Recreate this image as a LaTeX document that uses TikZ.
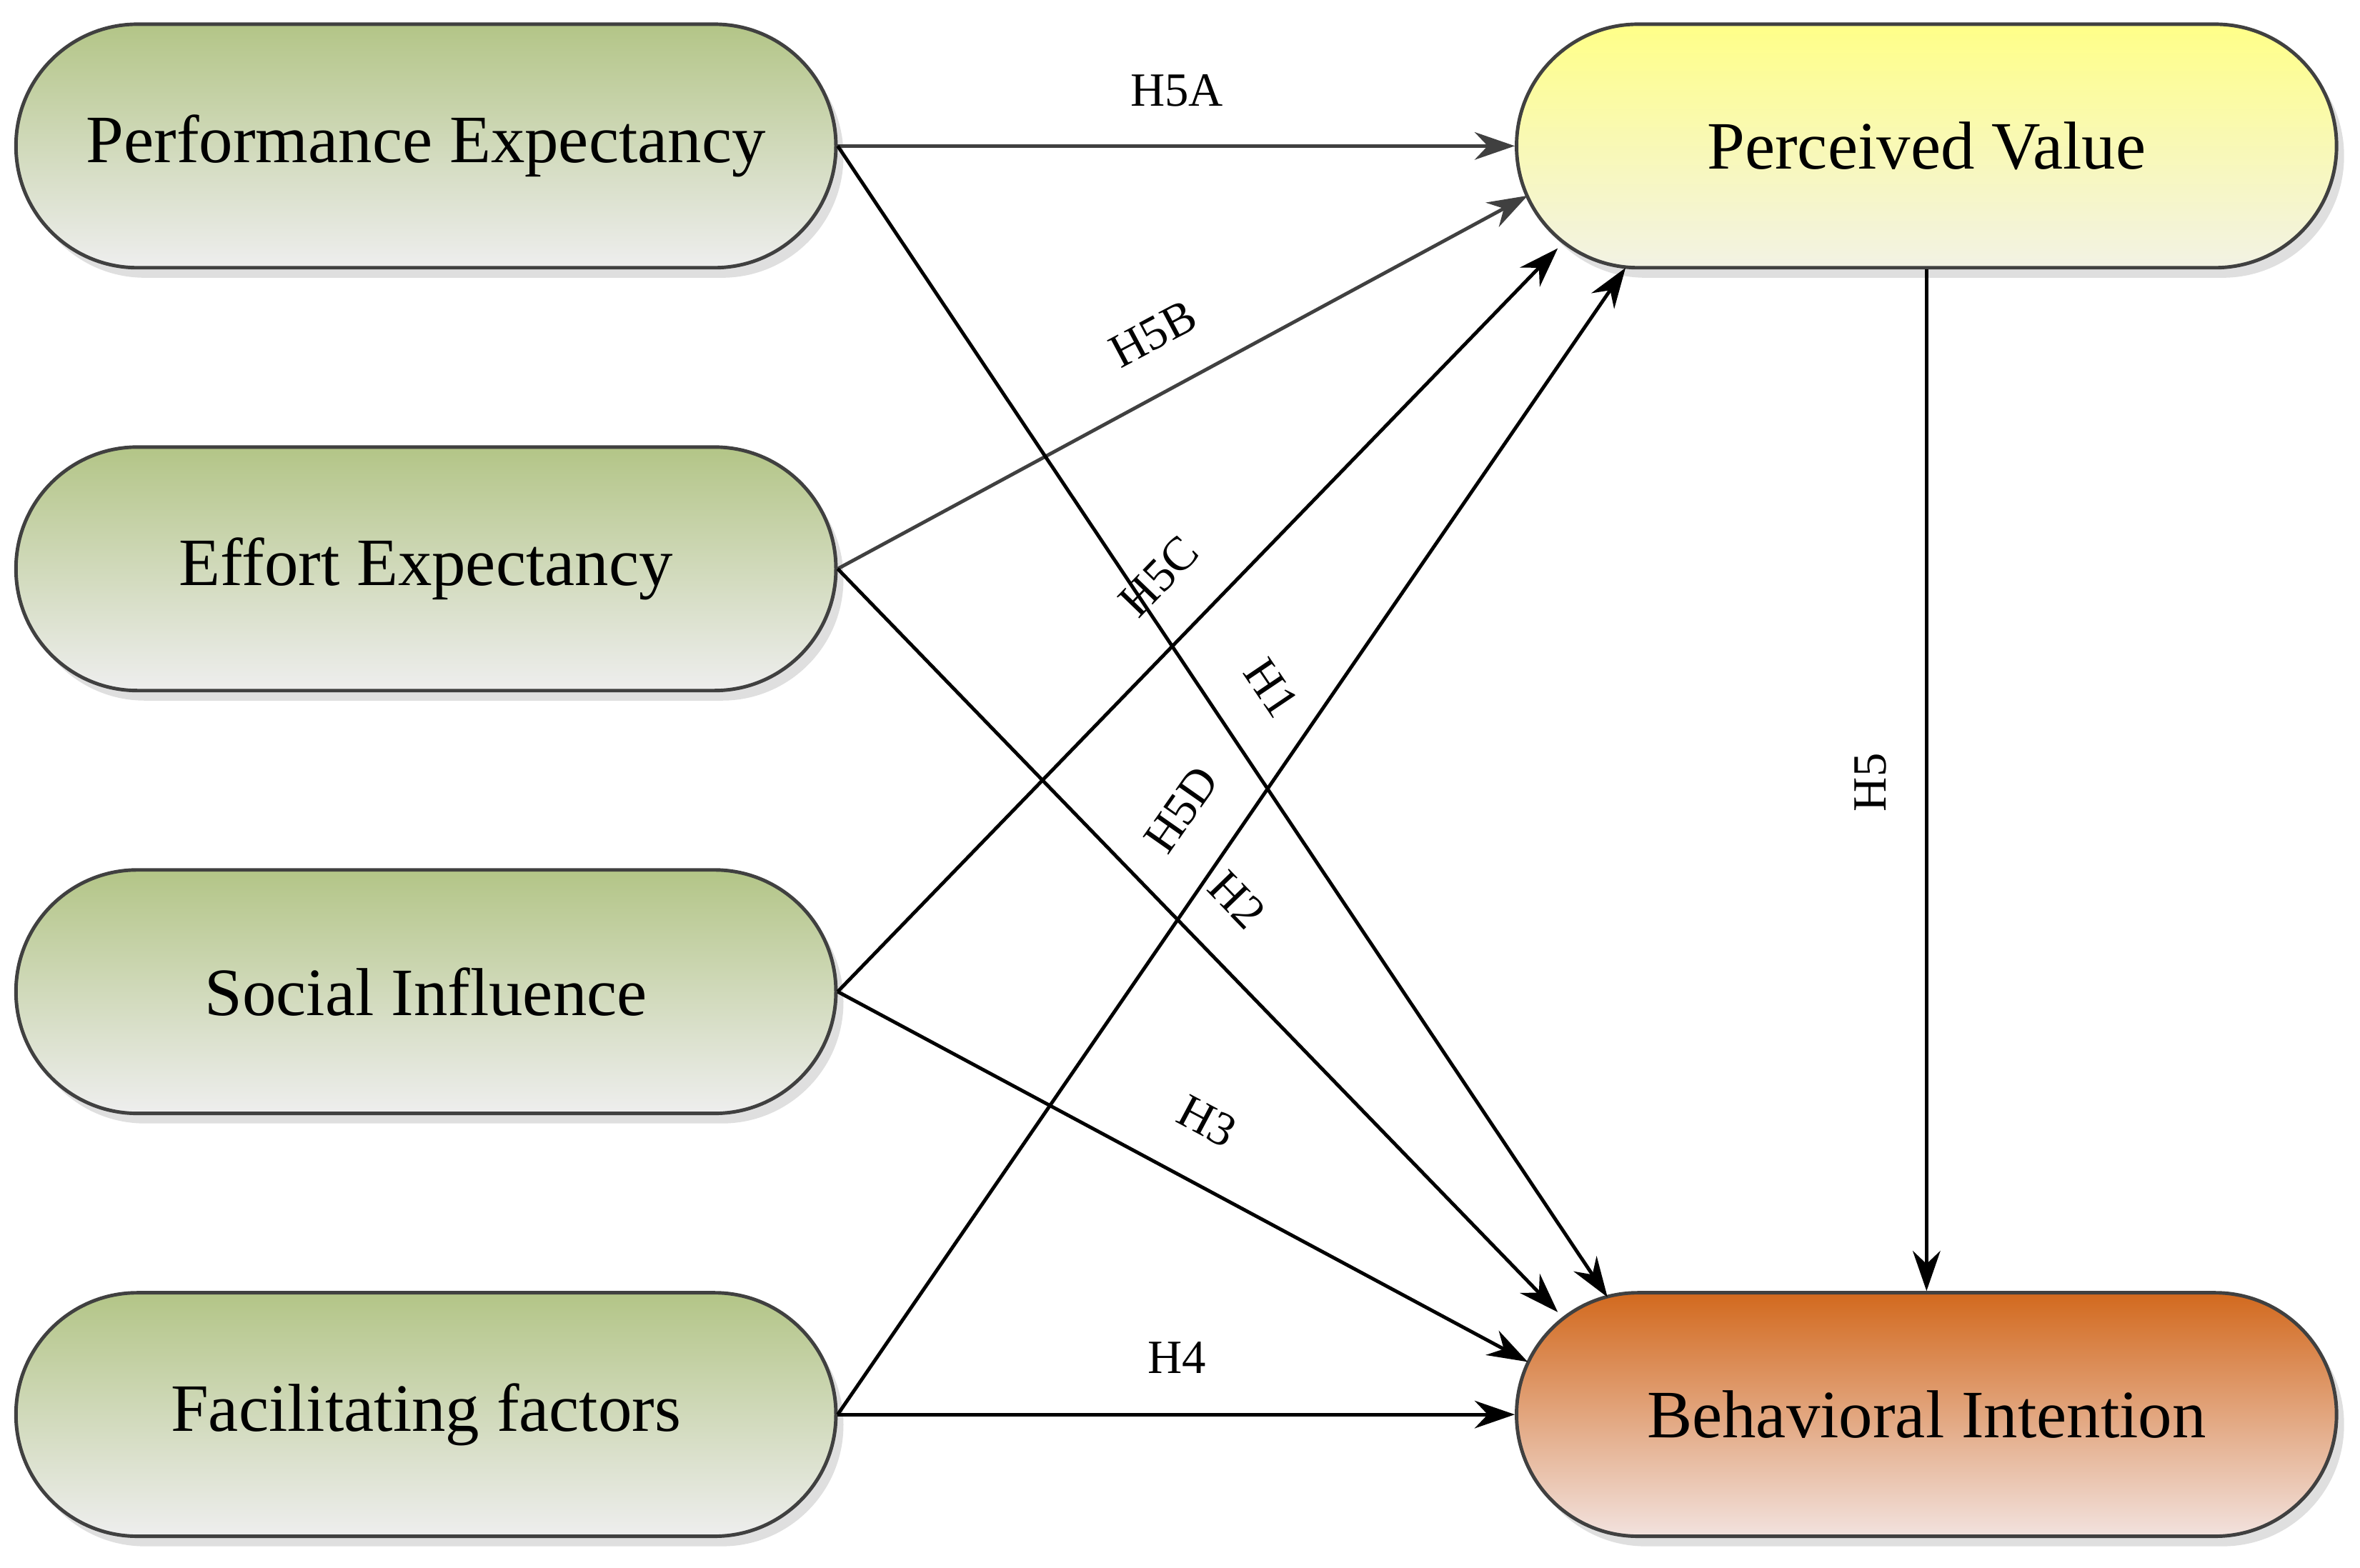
\documentclass[tikz,border=0pt]{standalone}
\usepackage{fontspec}
\setmainfont{Liberation Serif}
\usetikzlibrary{shadows,arrows.meta}
\definecolor{grtop}{HTML}{B3C587}
\definecolor{grbot}{HTML}{EEEEEE}
\definecolor{ytop}{HTML}{FFFF88}
\definecolor{ybot}{HTML}{F2F2E4}
\definecolor{otop}{HTML}{D2691E}
\definecolor{obot}{HTML}{F2E2DE}
\begin{document}
\begin{tikzpicture}[x=0.02107cm,y=-0.02107cm,
 box/.style={draw=black!75,line width=1.4pt,rounded corners=1.7cm,minimum width=11.48cm,minimum height=3.41cm,
   font=\fontsize{27}{30}\selectfont,drop shadow={shadow xshift=3pt,shadow yshift=-4pt,opacity=0.25}},
 lg/.style={box,top color=grtop,bottom color=grbot},
 ar/.style={line width=1.4pt,-{Stealth[length=16pt,width=11pt]}},
 lb/.style={font=\fontsize{19}{21}\selectfont,inner sep=1pt}]
\useasboundingbox (0,0) rectangle (1568,1042);
\node[lg] (pe) at (283,97) {Performance Expectancy};
\node[lg] (ee) at (283,378) {Effort Expectancy};
\node[lg] (si) at (283,659) {Social Influence};
\node[lg] (ff) at (283,940) {Facilitating factors};
\node[box,top color=ytop,bottom color=ybot] (pv) at (1280,97) {Perceived Value};
\node[box,top color=otop,bottom color=obot] (bi) at (1280,940) {Behavioral Intention};
\coordinate (pvb) at (1015,130);
\coordinate (pvc) at (1035,165);
\coordinate (pvd) at (1080,178);
\coordinate (bia) at (1068,862);
\coordinate (bib) at (1035,872);
\coordinate (bic) at (1015,905);
\draw[ar,black!75] (pe.east) -- (pv.west);
\draw[ar,black!75] (ee.east) -- (pvb);
\draw[ar] (si.east) -- (pvc);
\draw[ar] (ff.east) -- (pvd);
\draw[ar] (pe.east) -- (bia);
\draw[ar] (ee.east) -- (bib);
\draw[ar] (si.east) -- (bic);
\draw[ar] (ff.east) -- (bi.west);
\draw[ar] (pv.south) -- (bi.north);
\node[lb] (l5a) at (782,60) {H5A};
\node[lb,rotate=28] (l5b) at (766,222) {H5B};
\node[lb,rotate=46] (l5c) at (770,383) {H5C};
\node[lb,rotate=55] (l5d) at (785,538) {H5D};
\node[lb,rotate=-56] (l1) at (845,457) {H1};
\node[lb,rotate=-46] (l2) at (822,598) {H2};
\node[lb,rotate=-28] (l3) at (802,745) {H3};
\node[lb] (l4) at (782,902) {H4};
\node[lb,rotate=90] (l5) at (1243,520) {H5};
\end{tikzpicture}
\end{document}
